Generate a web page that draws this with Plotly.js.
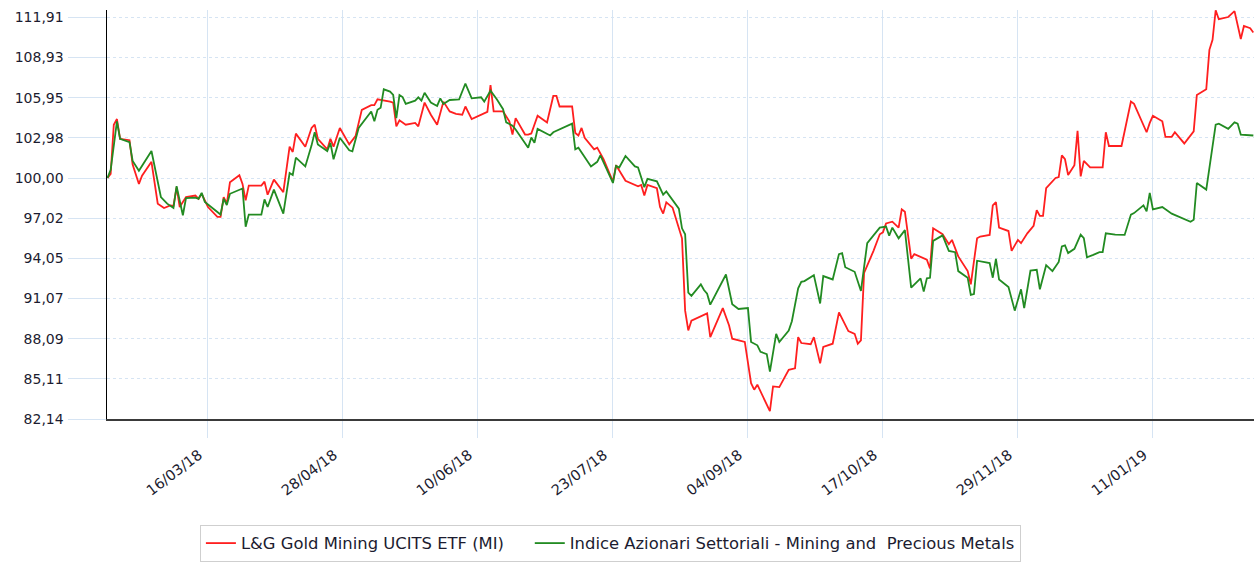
<!DOCTYPE html>
<html>
<head>
<meta charset="utf-8">
<script src="https://cdn.plot.ly/plotly-3.0.1.min.js"></script>
<style>
  html, body { margin: 0; padding: 0; background: #ffffff; }
  #chart { width: 1254px; height: 562px; }
</style>
</head>
<body>
<div id="chart"></div>
<script>
const seriesNames = ["L&G Gold Mining UCITS ETF (MI)", "Indice Azionari Settoriali - Mining and  Precious Metals"];

const redDates = ['2018-02-12','2018-02-13','2018-02-14','2018-02-15','2018-02-16','2018-02-19','2018-02-20','2018-02-22','2018-02-23','2018-02-26','2018-02-28','2018-03-01','2018-03-02','2018-03-04','2018-03-05','2018-03-06','2018-03-07','2018-03-09','2018-03-12','2018-03-13','2018-03-14','2018-03-16','2018-03-19','2018-03-20','2018-03-21','2018-03-22','2018-03-23','2018-03-26','2018-03-27','2018-03-28','2018-03-29','2018-04-02','2018-04-03','2018-04-04','2018-04-06','2018-04-09','2018-04-11','2018-04-12','2018-04-13','2018-04-16','2018-04-18','2018-04-19','2018-04-20','2018-04-23','2018-04-24','2018-04-25','2018-04-27','2018-04-30','2018-05-02','2018-05-04','2018-05-07','2018-05-08','2018-05-09','2018-05-13','2018-05-14','2018-05-15','2018-05-16','2018-05-18','2018-05-21','2018-05-22','2018-05-24','2018-05-26','2018-05-28','2018-05-30','2018-06-01','2018-06-03','2018-06-05','2018-06-06','2018-06-08','2018-06-13','2018-06-14','2018-06-15','2018-06-18','2018-06-20','2018-06-21','2018-06-22','2018-06-25','2018-06-26','2018-06-27','2018-06-29','2018-07-02','2018-07-04','2018-07-05','2018-07-06','2018-07-10','2018-07-11','2018-07-12','2018-07-13','2018-07-14','2018-07-17','2018-07-18','2018-07-20','2018-07-23','2018-07-24','2018-07-27','2018-07-31','2018-08-01','2018-08-02','2018-08-03','2018-08-06','2018-08-07','2018-08-08','2018-08-09','2018-08-11','2018-08-14','2018-08-15','2018-08-16','2018-08-17','2018-08-22','2018-08-23','2018-08-25','2018-08-27','2018-08-29','2018-08-30','2018-09-03','2018-09-05','2018-09-06','2018-09-07','2018-09-11','2018-09-12','2018-09-14','2018-09-17','2018-09-19','2018-09-20','2018-09-21','2018-09-24','2018-09-25','2018-09-27','2018-09-28','2018-10-01','2018-10-03','2018-10-06','2018-10-08','2018-10-09','2018-10-10','2018-10-11','2018-10-14','2018-10-16','2018-10-17','2018-10-18','2018-10-20','2018-10-22','2018-10-23','2018-10-24','2018-10-26','2018-10-27','2018-10-31','2018-11-01','2018-11-02','2018-11-05','2018-11-07','2018-11-08','2018-11-10','2018-11-13','2018-11-14','2018-11-16','2018-11-17','2018-11-20','2018-11-21','2018-11-22','2018-11-23','2018-11-26','2018-11-27','2018-11-29','2018-11-30','2018-12-02','2018-12-04','2018-12-05','2018-12-06','2018-12-07','2018-12-08','2018-12-11','2018-12-12','2018-12-13','2018-12-14','2018-12-15','2018-12-17','2018-12-18','2018-12-19','2018-12-20','2018-12-22','2018-12-26','2018-12-27','2018-12-28','2019-01-01','2019-01-04','2019-01-05','2019-01-07','2019-01-09','2019-01-10','2019-01-11','2019-01-14','2019-01-15','2019-01-17','2019-01-18','2019-01-21','2019-01-23','2019-01-24','2019-01-25','2019-01-28','2019-01-29','2019-01-30','2019-01-31','2019-02-01','2019-02-04','2019-02-06','2019-02-08','2019-02-09','2019-02-11','2019-02-12'];
const redValues = [100.0,100.3,103.95,104.37,102.9,102.8,101.0,99.56,100.17,101.2,98.1,97.97,97.78,97.97,97.93,99.3,97.85,98.59,98.7,98.46,98.83,97.85,97.12,97.12,98.59,98.1,99.68,100.2,99.56,98.34,99.44,99.44,99.73,98.76,99.88,98.95,102.32,101.93,103.29,102.32,103.71,103.95,102.9,102.12,102.9,102.32,103.71,102.49,103.1,105.05,105.4,105.4,105.83,105.66,105.59,103.83,104.27,103.95,104.08,103.83,105.59,104.69,103.95,105.66,104.93,104.76,104.69,105.3,104.37,104.9,106.88,104.93,104.93,104.2,103.22,104.44,103.22,103.22,103.3,104.61,104.12,106.08,106.08,105.3,105.3,103.34,103.15,103.71,102.98,102.12,102.25,101.39,99.73,100.95,99.8,99.39,99.49,98.7,99.49,99.24,97.85,97.36,98.2,97.8,95.53,90.17,88.7,89.43,89.97,88.21,89.24,90.36,89.07,88.09,87.85,84.8,84.31,84.68,82.72,84.55,84.5,85.78,85.9,88.21,87.77,87.68,88.21,86.26,87.48,87.72,90.04,88.65,88.45,87.72,87.97,92.97,94.6,95.83,95.97,96.63,96.76,96.32,97.68,97.5,94.02,94.36,93.95,93.29,96.27,95.83,95.09,95.41,94.19,93.1,92.12,95.53,95.66,95.78,97.97,98.22,96.32,96.07,94.6,95.41,95.17,95.9,96.46,97.61,97.19,97.2,99.24,100.0,100.07,101.68,101.39,100.22,100.95,103.5,100.12,101.27,100.78,100.78,103.39,102.37,102.37,105.66,105.5,104.44,103.39,104.08,104.61,104.2,103.05,103.05,103.39,102.56,103.22,103.46,106.15,106.57,109.5,110.24,112.43,111.77,111.93,112.37,110.3,111.27,111.1,110.78];

const greenDates = ['2018-02-12','2018-02-13','2018-02-15','2018-02-16','2018-02-19','2018-02-20','2018-02-22','2018-02-26','2018-03-01','2018-03-03','2018-03-05','2018-03-06','2018-03-08','2018-03-09','2018-03-12','2018-03-13','2018-03-14','2018-03-15','2018-03-20','2018-03-21','2018-03-22','2018-03-23','2018-03-27','2018-03-28','2018-03-29','2018-04-02','2018-04-03','2018-04-04','2018-04-06','2018-04-09','2018-04-11','2018-04-12','2018-04-13','2018-04-16','2018-04-18','2018-04-19','2018-04-20','2018-04-23','2018-04-24','2018-04-25','2018-04-27','2018-04-30','2018-05-01','2018-05-03','2018-05-07','2018-05-08','2018-05-09','2018-05-10','2018-05-11','2018-05-13','2018-05-14','2018-05-15','2018-05-16','2018-05-17','2018-05-18','2018-05-21','2018-05-22','2018-05-23','2018-05-24','2018-05-26','2018-05-28','2018-05-29','2018-05-30','2018-06-01','2018-06-04','2018-06-06','2018-06-08','2018-06-11','2018-06-12','2018-06-14','2018-06-16','2018-06-18','2018-06-19','2018-06-21','2018-06-22','2018-06-26','2018-06-27','2018-06-28','2018-06-29','2018-07-03','2018-07-04','2018-07-10','2018-07-11','2018-07-12','2018-07-16','2018-07-18','2018-07-19','2018-07-23','2018-07-24','2018-07-25','2018-07-27','2018-07-30','2018-07-31','2018-08-02','2018-08-03','2018-08-06','2018-08-08','2018-08-09','2018-08-13','2018-08-14','2018-08-15','2018-08-16','2018-08-17','2018-08-20','2018-08-21','2018-08-22','2018-08-23','2018-08-28','2018-08-30','2018-09-01','2018-09-04','2018-09-05','2018-09-07','2018-09-08','2018-09-10','2018-09-11','2018-09-13','2018-09-14','2018-09-17','2018-09-18','2018-09-20','2018-09-21','2018-09-22','2018-09-25','2018-09-27','2018-09-28','2018-10-01','2018-10-03','2018-10-04','2018-10-05','2018-10-08','2018-10-10','2018-10-12','2018-10-15','2018-10-16','2018-10-18','2018-10-19','2018-10-20','2018-10-22','2018-10-24','2018-10-26','2018-10-29','2018-10-30','2018-10-31','2018-11-01','2018-11-02','2018-11-05','2018-11-07','2018-11-09','2018-11-10','2018-11-13','2018-11-14','2018-11-15','2018-11-16','2018-11-20','2018-11-21','2018-11-22','2018-11-23','2018-11-26','2018-11-28','2018-11-30','2018-12-01','2018-12-03','2018-12-05','2018-12-06','2018-12-08','2018-12-10','2018-12-12','2018-12-13','2018-12-14','2018-12-15','2018-12-17','2018-12-19','2018-12-20','2018-12-21','2018-12-23','2018-12-25','2018-12-26','2018-12-27','2018-12-30','2019-01-02','2019-01-04','2019-01-05','2019-01-08','2019-01-09','2019-01-10','2019-01-11','2019-01-14','2019-01-17','2019-01-23','2019-01-24','2019-01-25','2019-01-28','2019-01-31','2019-02-01','2019-02-04','2019-02-06','2019-02-07','2019-02-08','2019-02-12'];
const greenValues = [100.0,100.6,104.2,102.9,102.66,101.27,100.53,102.0,98.59,98.1,97.78,99.39,97.24,98.51,98.55,98.46,98.9,98.22,97.29,98.46,98.0,98.83,99.22,96.39,97.29,97.29,98.41,97.85,99.14,97.36,100.37,100.22,101.51,100.86,102.42,103.39,102.49,102.0,102.6,101.39,102.98,102.05,101.98,103.71,104.93,104.2,105.05,105.2,106.57,106.4,106.15,104.44,106.15,106.0,105.49,105.73,105.98,105.73,106.32,105.59,105.34,105.9,105.49,105.78,105.83,107.0,105.9,105.98,105.66,106.47,105.83,105.1,104.12,103.88,103.59,102.25,103.0,102.61,103.64,103.15,103.39,104.03,102.12,102.25,100.86,101.2,101.68,99.63,100.9,100.78,101.63,100.86,100.78,99.32,99.93,99.75,98.76,99.0,97.73,96.27,95.83,91.51,91.27,92.12,91.7,91.43,90.61,92.85,90.65,90.29,90.36,87.85,87.6,87.12,86.95,85.65,88.45,87.85,88.7,89.39,91.83,92.31,92.36,92.8,90.7,92.73,92.48,94.36,94.43,93.39,93.05,91.63,95.17,95.97,96.32,96.4,95.73,96.32,95.53,96.14,91.87,92.56,91.58,92.56,92.6,95.34,95.75,94.6,94.5,93.1,92.61,91.34,91.4,93.87,93.7,92.61,94.0,92.48,91.92,90.17,91.75,90.36,93.14,93.2,91.75,93.54,93.1,93.78,94.93,95.0,94.44,94.75,95.8,95.55,94.12,94.3,94.5,94.5,95.9,95.8,95.78,97.29,97.4,97.97,97.53,98.9,97.68,97.85,97.36,96.76,96.9,99.63,99.14,103.95,104.03,103.64,104.12,104.03,103.22,103.15];

const yTickValues = [82.14, 85.11, 88.09, 91.07, 94.05, 97.02, 100.00, 102.98, 105.95, 108.93, 111.91];
const xTickDates = ['2018-03-16','2018-04-28','2018-06-10','2018-07-23','2018-09-04','2018-10-17','2018-11-29','2019-01-11'];

const gridBlue = '#d6e4f3';
const fontFam = 'DejaVu Sans, Verdana, sans-serif';
const legendPad = '\u00a0\u00a0\u00a0\u00a0';

const traces = [
  { type: 'scatter', mode: 'lines', name: seriesNames[0] + legendPad, x: redDates, y: redValues,
    line: { color: '#ff1f1f', width: 1.8 }, hoverinfo: 'skip' },
  { type: 'scatter', mode: 'lines', name: seriesNames[1], x: greenDates, y: greenValues,
    line: { color: '#228b22', width: 1.8 }, hoverinfo: 'skip' }
];

const layout = {
  width: 1254, height: 562,
  margin: { l: 107, r: 0, t: 10, b: 139, pad: 0 },
  paper_bgcolor: '#ffffff', plot_bgcolor: '#ffffff',
  separators: ',.',
  font: { family: fontFam, size: 14, color: '#1c1c30' },
  showlegend: true,
  xaxis: {
    type: 'date',
    range: ['2018-02-11 20:00', '2019-02-12 05:00'],
    tickmode: 'array', tickvals: xTickDates, tickformat: '%d/%m/%y',
    tickangle: -37,
    ticks: 'outside', ticklen: 17, tickcolor: gridBlue, tickwidth: 1,
    ticklabelshift: -9, ticklabelstandoff: 3,
    showgrid: true, gridcolor: gridBlue, gridwidth: 1,
    showline: true, linecolor: '#3a3a3a', linewidth: 2,
    zeroline: false,
    tickfont: { family: fontFam, size: 14.5, color: '#1c1c30' }
  },
  yaxis: {
    range: [82.14, 112.45],
    tickmode: 'array', tickvals: yTickValues, tickformat: '.2f',
    ticks: 'outside', ticklen: 38, tickcolor: gridBlue, tickwidth: 1,
    showgrid: true, gridcolor: gridBlue, gridwidth: 1, griddash: 'dot',
    showline: true, linecolor: '#000000', linewidth: 1.5,
    zeroline: false,
    ticklabelstandoff: 1,
    tickfont: { family: fontFam, size: 14, color: '#1c1c30' }
  },
  legend: {
    orientation: 'h', x: 0.081, xanchor: 'left', y: -0.259, yanchor: 'top',
    bordercolor: '#cfcfcf', borderwidth: 1, bgcolor: '#ffffff',
    itemwidth: 30,
    font: { family: fontFam, size: 16.4, color: '#1c1c30' }
  }
};

Plotly.newPlot('chart', traces, layout, { displayModeBar: false, staticPlot: true });
</script>
</body>
</html>
